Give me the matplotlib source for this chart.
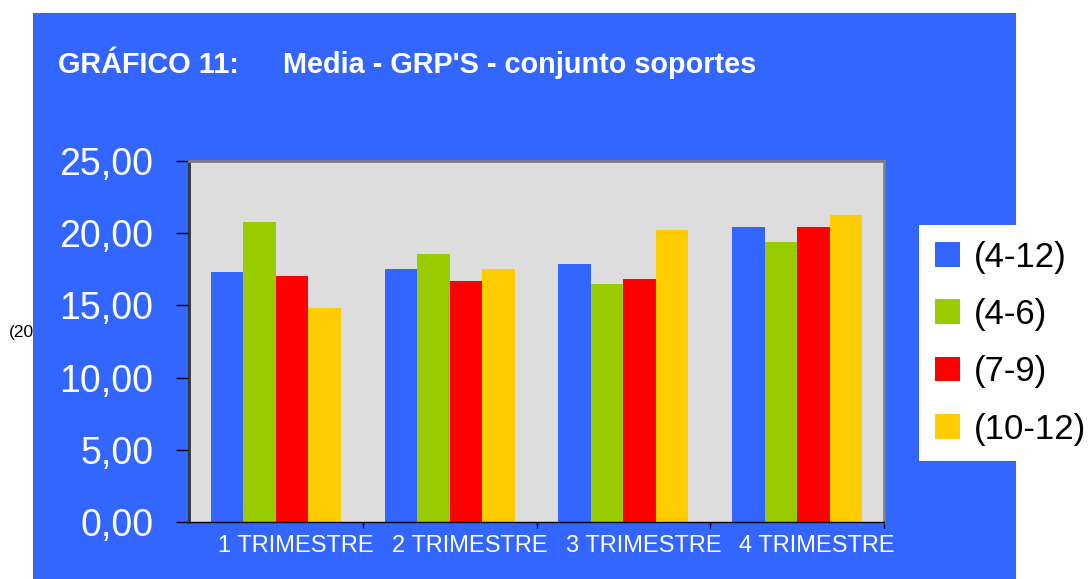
import matplotlib
matplotlib.use("Agg")
import matplotlib.pyplot as plt
import matplotlib.transforms as mtransforms
from matplotlib.patches import Rectangle
import numpy as np

plt.rcParams['font.family'] = ['Liberation Sans', 'DejaVu Sans']

categories = ['1 TRIMESTRE', '2 TRIMESTRE', '3 TRIMESTRE', '4 TRIMESTRE']
series_names = ['(4-12)', '(4-6)', '(7-9)', '(10-12)']
series_values = {
    '(4-12)': [17.31, 17.52, 17.87, 20.43],
    '(4-6)': [20.78, 18.56, 16.48, 19.39],
    '(7-9)': [17.04, 16.69, 16.83, 20.43],
    '(10-12)': [14.82, 17.52, 20.22, 21.26],
}
series_colors = ['#3366FF', '#99CC00', '#FF0000', '#FFCC00']
y_ticks = [0, 5, 10, 15, 20, 25]

W, H = 1091, 579
fig = plt.figure(figsize=(W / 100, H / 100), dpi=100, facecolor='white')

# blue panel behind the chart
fig.patches.append(Rectangle((33 / W, 0), (1016 - 33) / W, (H - 13) / H,
                             transform=fig.transFigure, facecolor='#3366FF',
                             edgecolor='none', zorder=-1))
# partly hidden note on the left
fig.text(9 / W, 1 - 333 / H, '(2007)', fontsize=12.5, color='black',
         va='center', ha='left', zorder=-2)

ax = fig.add_axes([189 / W, (H - 522) / H, (884 - 189) / W, (522 - 161) / H])
ax.set_facecolor('#DDDDDD')

x = np.arange(len(categories))
w = 0.187
for i, (name, col) in enumerate(zip(series_names, series_colors)):
    ax.bar(x + (i - 1.5) * w, series_values[name], width=w, color=col,
           label=name, zorder=2)

ax.set_xlim(-0.5, 3.5)
ax.set_ylim(0, 25)
ax.set_yticks(y_ticks)
ax.set_yticklabels([f'{v:.2f}'.replace('.', ',') for v in y_ticks])
ax.tick_params(axis='y', direction='out', length=9.5, width=1, color='black',
               labelsize=27, labelcolor='white', pad=16)

ax.set_xticks(x)
ax.set_xticklabels(categories)
ax.set_xticks(np.arange(0.5, 4.0, 1.0), minor=True)
ax.tick_params(axis='x', which='major', length=0, labelsize=17,
               labelcolor='white', pad=9)
ax.tick_params(axis='x', which='minor', direction='out', length=4, width=1,
               color='black')
offset = mtransforms.ScaledTranslation(20 / 100, 0, fig.dpi_scale_trans)
for lbl in ax.get_xticklabels():
    lbl.set_transform(lbl.get_transform() + offset)

ax.spines['top'].set_color('#808080')
ax.spines['top'].set_linewidth(2)
ax.spines['right'].set_color('#808080')
ax.spines['right'].set_linewidth(2)
ax.spines['left'].set_color('#333333')
ax.spines['left'].set_linewidth(2)
ax.spines['bottom'].set_color('black')
ax.spines['bottom'].set_linewidth(1)

fig.text(58 / W, 1 - 73 / H, 'GRÁFICO 11:', fontsize=20.8, fontweight='bold',
         color='white', va='baseline', ha='left')
fig.text(283 / W, 1 - 73 / H, "Media - GRP'S - conjunto soportes",
         fontsize=20.8, fontweight='bold', color='white', va='baseline',
         ha='left')

leg = fig.legend(loc='upper left', bbox_to_anchor=(919 / W, 1 - 225 / H),
                 bbox_transform=fig.transFigure, fontsize=25, frameon=True,
                 fancybox=False, shadow=False, framealpha=1,
                 handlelength=0.72, handleheight=0.72, handletextpad=0.4,
                 labelspacing=0.7, borderpad=0.45, borderaxespad=0)
leg.get_frame().set_facecolor('white')
leg.get_frame().set_edgecolor('none')
leg.get_frame().set_linewidth(0)

fig.savefig('out.png', dpi=100, facecolor='white')
